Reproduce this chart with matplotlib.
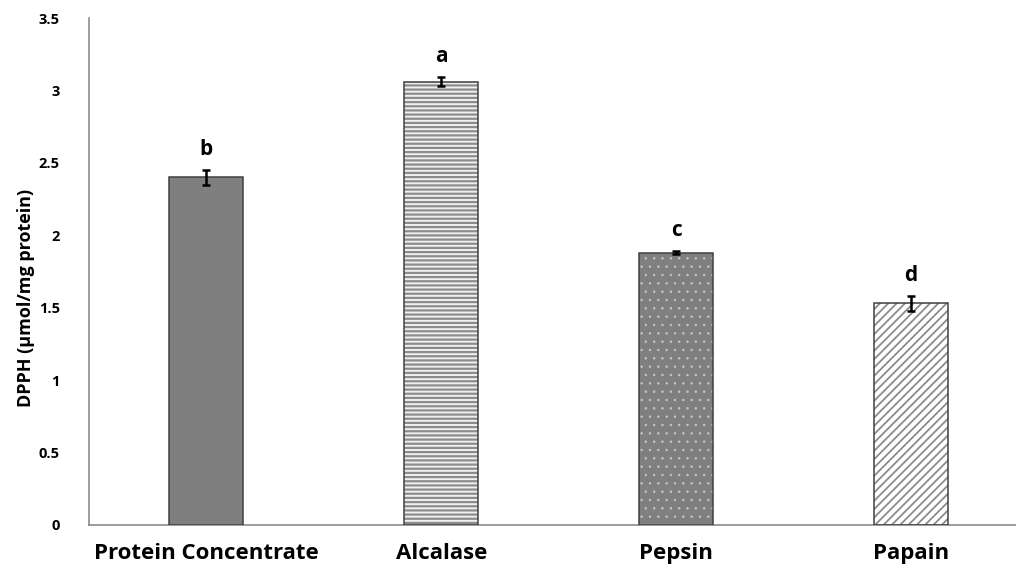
import matplotlib
matplotlib.use("Agg")
import matplotlib.pyplot as plt
import numpy as np

# DPPH scavenging per sample
muestras = ["Protein Concentrate", "Alcalase", "Pepsin", "Papain"]
dpph = [2.40, 3.06, 1.88, 1.53]
desvio = [0.05, 0.03, 0.01, 0.05]
letras = ["b", "a", "c", "d"]

plt.rcParams["font.family"] = ["Open Sans", "DejaVu Sans"]

fig = plt.figure(figsize=(10.16, 5.73), dpi=100)
ax = fig.add_axes([89 / 1016, 1 - 525 / 573, (1016 - 89) / 1016, (525 - 18) / 573])

x = np.arange(len(muestras))
ancho = 0.315

# relleno de cada barra (fondo, color del patron, patron, grosor del patron)
rellenos = [("#7f7f7f", "#7f7f7f", None, 1.0),
            ("#f0f0f0", "#8c8c8c", "----", 1.6),
            ("#7f7f7f", "#c8c8c8", "..", 0.5),
            ("#ffffff", "#8c8c8c", "////", 1.3)]

for i in range(len(muestras)):
    fondo, trama, patron, grosor = rellenos[i]
    plt.rcParams["hatch.linewidth"] = grosor
    ax.bar(x[i], dpph[i], width=ancho, color=fondo, edgecolor=trama,
           hatch=patron, linewidth=0, zorder=2)
    ax.bar(x[i], dpph[i], width=ancho, fill=False, edgecolor="#404040",
           linewidth=1.1, zorder=3)

ax.errorbar(x, dpph, yerr=desvio, fmt="none", ecolor="black",
            elinewidth=1.8, capsize=3, capthick=1.8, zorder=4)

for i in range(len(muestras)):
    ax.text(x[i], dpph[i] + desvio[i] + 0.07, letras[i], ha="center",
            va="bottom", fontsize=15, fontweight="bold")

ax.set_ylim(0, 3.5)
ax.set_xlim(-0.5, 3.447)
ax.set_yticks(np.arange(0, 3.51, 0.5))
ax.set_yticklabels(["0", "0.5", "1", "1.5", "2", "2.5", "3", "3.5"])
ax.set_xticks(x)
ax.set_xticklabels(muestras)
ax.tick_params(axis="y", length=0, pad=21, labelsize=10.5)
ax.tick_params(axis="x", length=0, pad=13, labelsize=16)
for t in ax.get_xticklabels() + ax.get_yticklabels():
    t.set_fontweight("bold")

ax.set_ylabel("DPPH (µmol/mg protein)", fontsize=13, fontweight="bold")
ax.yaxis.set_label_coords(-0.058, 0.448)

ax.spines["top"].set_visible(False)
ax.spines["right"].set_visible(False)
ax.spines["left"].set_color("#8c8c8c")
ax.spines["bottom"].set_color("#8c8c8c")
ax.spines["left"].set_linewidth(1.2)
ax.spines["bottom"].set_linewidth(1.2)

fig.savefig("out.png", dpi=100)
